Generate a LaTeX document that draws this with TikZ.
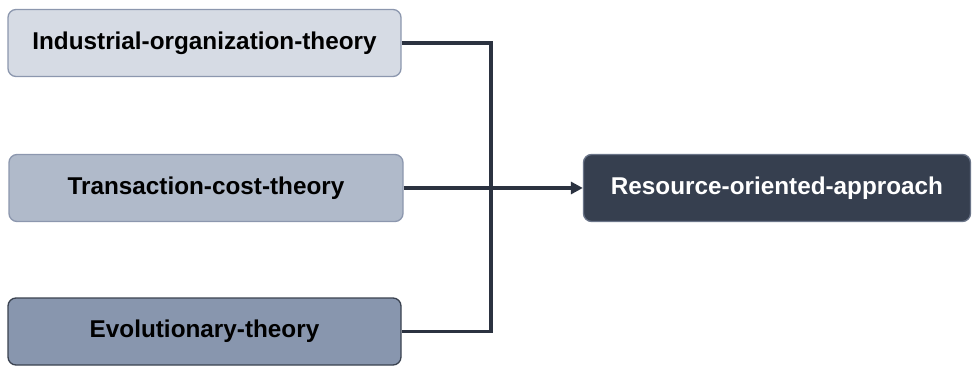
\documentclass[tikz,border=0pt]{standalone}
\usepackage{fontspec}
\setmainfont{Liberation Sans}
\usetikzlibrary{arrows.meta}
\definecolor{cA}{HTML}{D6DBE4}
\definecolor{cB}{HTML}{B0BACA}
\definecolor{cC}{HTML}{8896AE}
\definecolor{cD}{HTML}{363F4F}
\definecolor{bdA}{HTML}{8C97AE}
\definecolor{bdC}{HTML}{3A4250}
\definecolor{ln}{HTML}{2B3240}
\tikzset{
  box/.style={rounded corners=8pt, line width=1.3pt, minimum height=67pt,
    font=\fontsize{24.3}{28}\selectfont\bfseries, inner sep=0pt},
  conn/.style={draw=ln, line width=3.3pt},
}
\begin{document}
\begin{tikzpicture}[x=1pt,y=-1pt]
\useasboundingbox (0,0) rectangle (972,366);
\node[box, fill=cA, draw=bdA, minimum width=393pt] (b1) at (204.5,43) {Industrial-organization-theory};
\node[box, fill=cB, draw=bdA, minimum width=394pt] (b2) at (206,188) {Transaction-cost-theory};
\node[box, fill=cC, draw=bdC, minimum width=393pt] (b3) at (204.5,331.5) {Evolutionary-theory};
\node[box, fill=cD, draw=bdA!60!cD, text=white, minimum width=387pt] (b4) at (777,188) {Resource-oriented-approach};
\coordinate (jt) at (491,43);
\coordinate (jb) at (491,331.5);
\draw[conn, line join=miter] (b1.east) -- (jt) -- (jb) -- (b3.east);
\draw[conn, -{Triangle[length=12pt,width=12pt]}] (b2.east) -- (b4.west);
\end{tikzpicture}
\end{document}
